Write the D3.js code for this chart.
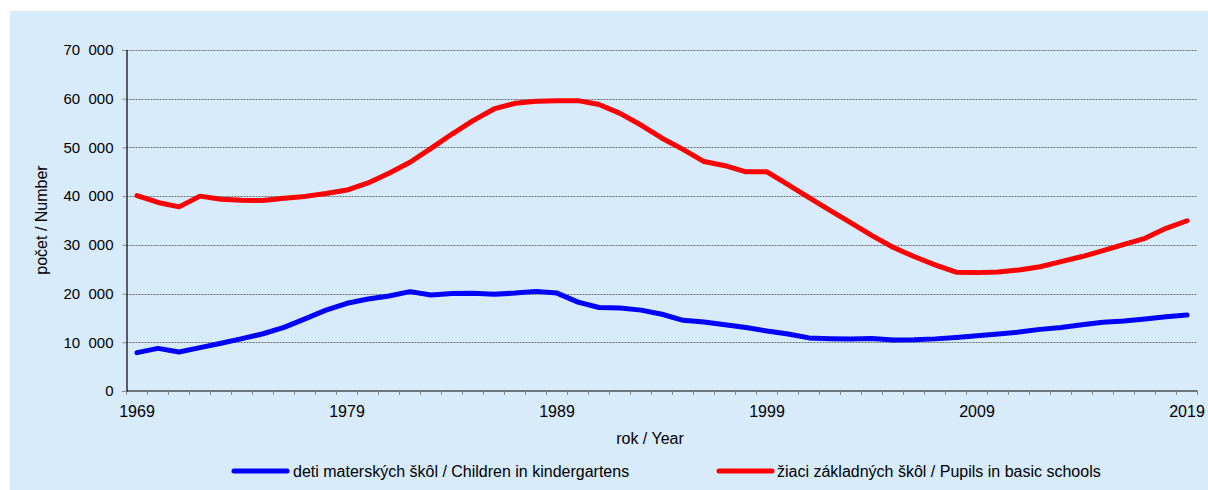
<!DOCTYPE html>
<html>
<head>
<meta charset="utf-8">
<script src="https://cdn.jsdelivr.net/npm/d3@7"></script>
<style>
  html, body { margin: 0; padding: 0; background: #ffffff; }
  svg { display: block; font-family: "Liberation Sans", Arial, sans-serif; }
</style>
</head>
<body>
<svg id="chart" width="1208" height="490"></svg>
<script>
const years = d3.range(1969, 2020);
const kindergarten = [
  7870, 8750, 8000, 8900, 9800, 10750, 11750, 13050, 14800, 16600,
  18000, 18900, 19500, 20400, 19700, 20000, 20050, 19850, 20100, 20450,
  20100, 18250, 17150, 17050, 16600, 15750, 14500, 14150, 13600, 13050,
  12300, 11700, 10900, 10750, 10650, 10800, 10450, 10500, 10700, 11000,
  11350, 11700, 12100, 12650, 13050, 13600, 14100, 14350, 14800, 15250,
  15600
];
const pupils = [
  40100, 38700, 37800, 40000, 39350, 39150, 39100, 39550, 39950, 40550,
  41250, 42700, 44700, 46950, 49800, 52750, 55500, 57900, 59050, 59500,
  59600, 59600, 58800, 57000, 54600, 51900, 49600, 47100, 46250, 45000,
  45000, 42350, 39700, 37100, 34500, 31900, 29500, 27600, 25900, 24400,
  24300, 24450, 24850, 25500, 26550, 27600, 28800, 30100, 31350, 33400,
  34950
];
const yTicks = [0, 10000, 20000, 30000, 40000, 50000, 60000, 70000];
const xLabelYears = [1969, 1979, 1989, 1999, 2009, 2019];
const seriesNames = [
  "deti materských škôl / Children in kindergartens",
  "žiaci základných škôl / Pupils in basic schools"
];
const seriesColors = ["#0000ff", "#ff0000"];
const xTitle = "rok / Year";
const yTitle = "počet / Number";

(function () {
const svg = d3.select("#chart");
const W = 1208, H = 490;
const pL = 126.5, pR = 1197.5, pT = 50, pB = 391;

svg.append("rect").attr("x", 10).attr("y", 11).attr("width", W - 10).attr("height", H - 11)
  .attr("fill", "#d7ebfb");

const x = d3.scaleBand().domain(years).range([pL, pR]).padding(0);
const y = d3.scaleLinear().domain([0, 70000]).range([pB, pT]);
const cx = d => x(d) + x.bandwidth() / 2;

// gridlines
svg.append("g").selectAll("line").data(yTicks.filter(v => v > 0)).join("line")
  .attr("x1", pL).attr("x2", pR)
  .attr("y1", d => Math.round(y(d)) + 0.5).attr("y2", d => Math.round(y(d)) + 0.5)
  .attr("stroke", "#707070").attr("stroke-width", 1).attr("stroke-dasharray", "2,1");

const fmt = v => {
  if (v === 0) return "0";
  const s = String(v);
  return s.slice(0, s.length - 3) + "\u2007" + s.slice(s.length - 3);
};

// y axis
const yAxis = svg.append("g").attr("transform", `translate(${pL},0)`)
  .call(d3.axisLeft(y).tickValues(yTicks).tickSize(4).tickPadding(9).tickFormat(fmt));
yAxis.select(".domain").attr("stroke", "#000").attr("stroke-width", 1.2);
yAxis.selectAll(".tick line").attr("stroke", "#8a8a8a");
yAxis.selectAll(".tick text").attr("font-size", 15).attr("fill", "#000")
  .attr("font-family", "Liberation Sans, Arial, sans-serif");

// x axis
const xAxisG = svg.append("g").attr("transform", `translate(0,${pB})`);
xAxisG.append("line").attr("x1", pL).attr("x2", pR).attr("y1", 0).attr("y2", 0)
  .attr("stroke", "#000").attr("stroke-width", 1.2);
const boundaries = years.map(d => x(d)).concat([x(years[years.length - 1]) + x.bandwidth()]);
xAxisG.selectAll("line.tk").data(boundaries).join("line").attr("class", "tk")
  .attr("x1", d => d).attr("x2", d => d).attr("y1", 0).attr("y2", 4)
  .attr("stroke", "#8a8a8a");
xAxisG.selectAll("text").data(xLabelYears).join("text")
  .attr("x", d => cx(d)).attr("y", 26).attr("text-anchor", "middle")
  .attr("font-size", 16).attr("fill", "#000").text(d => d);

// titles
svg.append("text").attr("x", 650).attr("y", 444).attr("text-anchor", "middle")
  .attr("font-size", 16).attr("fill", "#000").text(xTitle);
svg.append("text").attr("transform", "translate(47,220) rotate(-90)").attr("text-anchor", "middle")
  .attr("font-size", 16).attr("fill", "#000").text(yTitle);

// lines
const line = d3.line().x((d, i) => cx(years[i])).y(d => y(d));
[kindergarten, pupils].forEach((s, k) => {
  svg.append("path").datum(s).attr("d", line).attr("fill", "none")
    .attr("stroke", seriesColors[k]).attr("stroke-width", 5)
    .attr("stroke-linejoin", "round").attr("stroke-linecap", "round");
});

// legend
const legendPos = [{x1: 234, x2: 287, tx: 293}, {x1: 719, x2: 772, tx: 777}];
seriesNames.forEach((name, k) => {
  const p = legendPos[k];
  svg.append("line").attr("x1", p.x1).attr("x2", p.x2).attr("y1", 471).attr("y2", 471)
    .attr("stroke", seriesColors[k]).attr("stroke-width", 5).attr("stroke-linecap", "round");
  svg.append("text").attr("x", p.tx).attr("y", 476.5).attr("font-size", 16).attr("fill", "#000").text(name);
});
})();
</script>
</body>
</html>
